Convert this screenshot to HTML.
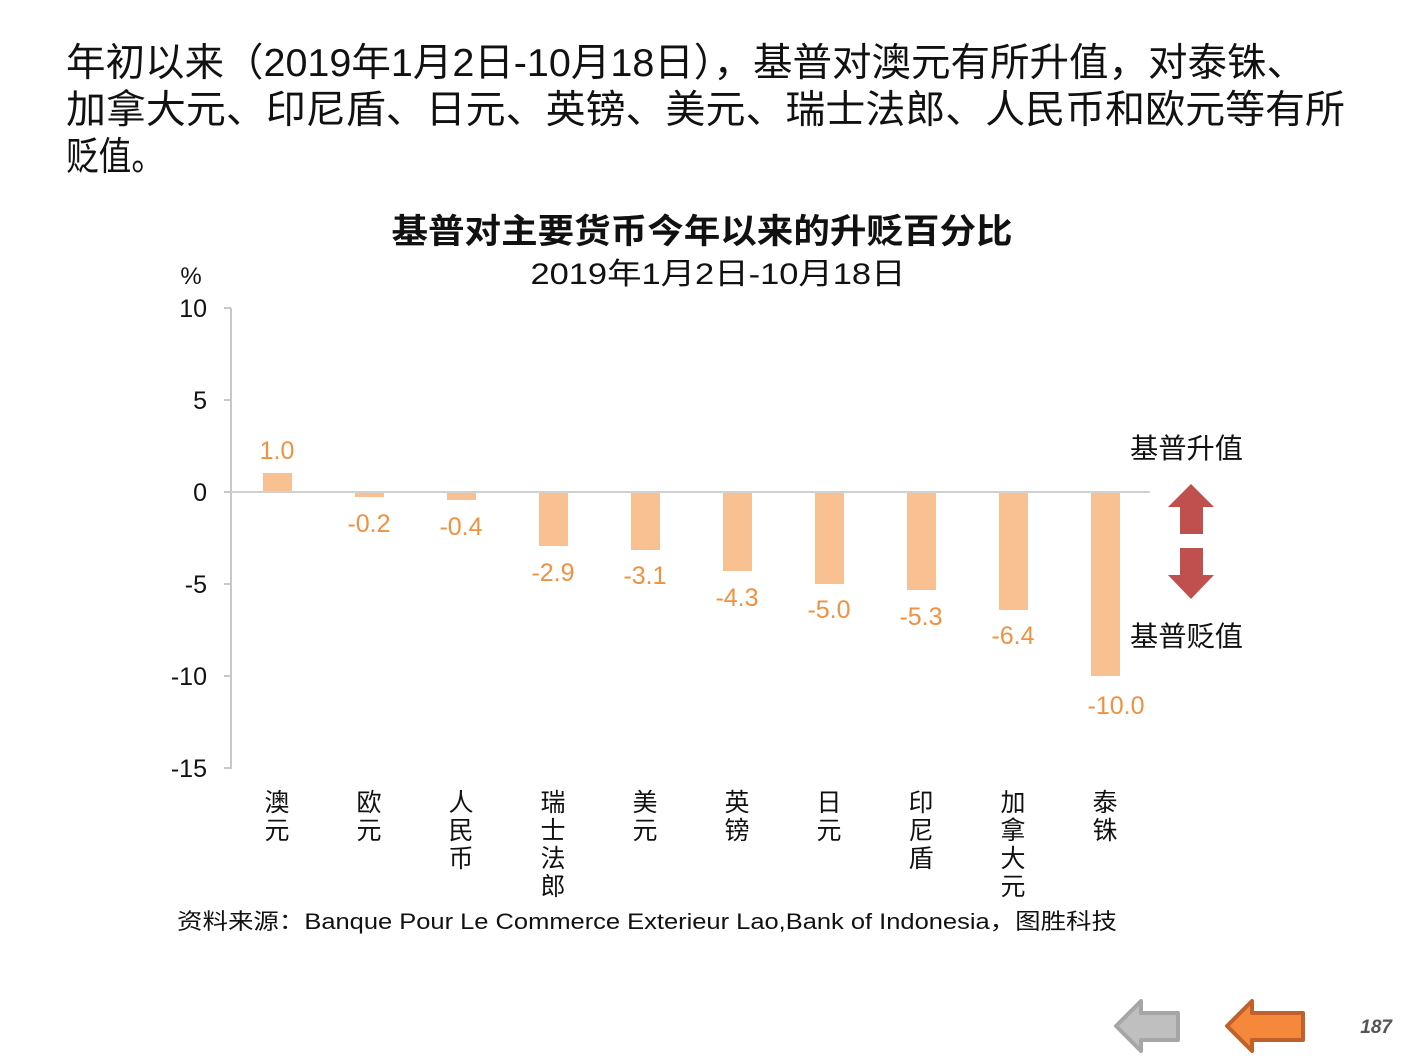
<!DOCTYPE html>
<html><head><meta charset="utf-8"><style>
html,body{margin:0;padding:0;background:#fff;}
svg{display:block;}
text{font-family:"Liberation Sans","Noto Sans CJK SC",sans-serif;}
</style></head><body>
<svg width="1411" height="1058" viewBox="0 0 1411 1058" xmlns="http://www.w3.org/2000/svg">
<g font-size="39" fill="#111" style="font-family:'Liberation Serif','Noto Serif CJK SC',serif">
<text x="66" y="76" textLength="1240" lengthAdjust="spacingAndGlyphs">年初以来（2019年1月2日-10月18日），基普对澳元有所升值，对泰铢、</text>
<text x="66" y="123" textLength="1279" lengthAdjust="spacingAndGlyphs">加拿大元、印尼盾、日元、英镑、美元、瑞士法郎、人民币和欧元等有所</text>
<text x="66" y="170" textLength="98" lengthAdjust="spacingAndGlyphs">贬值。</text>
</g>
<text x="702" y="243" font-size="34" font-weight="bold" text-anchor="middle" fill="#111" textLength="621" lengthAdjust="spacingAndGlyphs">基普对主要货币今年以来的升贬百分比</text>
<text x="718" y="284" font-size="30" text-anchor="middle" fill="#111" textLength="375" lengthAdjust="spacingAndGlyphs">2019年1月2日-10月18日</text>
<text x="191" y="284" font-size="24" text-anchor="middle" fill="#111">%</text>
<g font-size="25" text-anchor="end" fill="#111">
<text x="207" y="317">10</text>
<text x="207" y="409">5</text>
<text x="207" y="501">0</text>
<text x="207" y="593">-5</text>
<text x="207" y="685">-10</text>
<text x="207" y="777">-15</text>
</g>
<g stroke="#c8c8c8" stroke-width="2">
<line x1="231" y1="308" x2="231" y2="769"/>
<line x1="224" y1="308" x2="231" y2="308"/>
<line x1="224" y1="400" x2="231" y2="400"/>
<line x1="224" y1="492" x2="231" y2="492"/>
<line x1="224" y1="584" x2="231" y2="584"/>
<line x1="224" y1="676" x2="231" y2="676"/>
<line x1="224" y1="768" x2="231" y2="768"/>
</g>
<g fill="#f9c091">
<rect x="263" y="473" width="29" height="19"/>
<rect x="355" y="492" width="29" height="5"/>
<rect x="447" y="492" width="29" height="8"/>
<rect x="539" y="492" width="29" height="54"/>
<rect x="631" y="492" width="29" height="58"/>
<rect x="723" y="492" width="29" height="79"/>
<rect x="815" y="492" width="29" height="92"/>
<rect x="907" y="492" width="29" height="98"/>
<rect x="999" y="492" width="29" height="118"/>
<rect x="1091" y="492" width="29" height="184"/>
</g>
<line x1="231" y1="492" x2="1150" y2="492" stroke="#d0d0d0" stroke-width="2"/>
<g font-size="25" fill="#f0913f" text-anchor="middle">
<text x="277" y="459">1.0</text>
<text x="369" y="532">-0.2</text>
<text x="461" y="535">-0.4</text>
<text x="553" y="581">-2.9</text>
<text x="645" y="584">-3.1</text>
<text x="737" y="606">-4.3</text>
<text x="829" y="618">-5.0</text>
<text x="921" y="625">-5.3</text>
<text x="1013" y="644">-6.4</text>
<text x="1116" y="714">-10.0</text>
</g>
<g font-size="25" fill="#111" text-anchor="middle" style="font-family:'Liberation Serif','Noto Serif CJK SC',serif">
<text x="277" y="811">澳</text><text x="277" y="839">元</text>
<text x="369" y="811">欧</text><text x="369" y="839">元</text>
<text x="461" y="811">人</text><text x="461" y="839">民</text><text x="461" y="867">币</text>
<text x="553" y="811">瑞</text><text x="553" y="839">士</text><text x="553" y="867">法</text><text x="553" y="895">郎</text>
<text x="645" y="811">美</text><text x="645" y="839">元</text>
<text x="737" y="811">英</text><text x="737" y="839">镑</text>
<text x="829" y="811">日</text><text x="829" y="839">元</text>
<text x="921" y="811">印</text><text x="921" y="839">尼</text><text x="921" y="867">盾</text>
<text x="1013" y="811">加</text><text x="1013" y="839">拿</text><text x="1013" y="867">大</text><text x="1013" y="895">元</text>
<text x="1105" y="811">泰</text><text x="1105" y="839">铢</text>
</g>
<text x="177" y="929" font-size="22" fill="#111" textLength="940" lengthAdjust="spacingAndGlyphs">资料来源：Banque Pour Le Commerce Exterieur Lao,Bank of Indonesia，图胜科技</text>
<g font-size="28" fill="#111" style="font-family:'Liberation Serif','Noto Serif CJK SC',serif">
<text x="1130" y="458" textLength="113" lengthAdjust="spacingAndGlyphs">基普升值</text>
<text x="1130" y="646" textLength="113" lengthAdjust="spacingAndGlyphs">基普贬值</text>
</g>
<g fill="#c0504d">
<polygon points="1191,484 1214,507 1203,507 1203,534 1180,534 1180,507 1168,507"/>
<polygon points="1191,599 1214,575 1203,575 1203,548 1180,548 1180,575 1168,575"/>
</g>
<polygon points="1116,1026 1141,1001 1141,1013 1178,1013 1178,1040 1141,1040 1141,1051" fill="#bfbfbf" stroke="#a6a6a6" stroke-width="4" stroke-linejoin="round"/>
<polygon points="1227,1026 1252,1001 1252,1013 1303,1013 1303,1040 1252,1040 1252,1051" fill="#f5883a" stroke="#c0612a" stroke-width="4" stroke-linejoin="round"/>
<text x="1392" y="1033" font-size="19" font-weight="bold" font-style="italic" fill="#555" text-anchor="end">187</text>
</svg>
</body></html>
